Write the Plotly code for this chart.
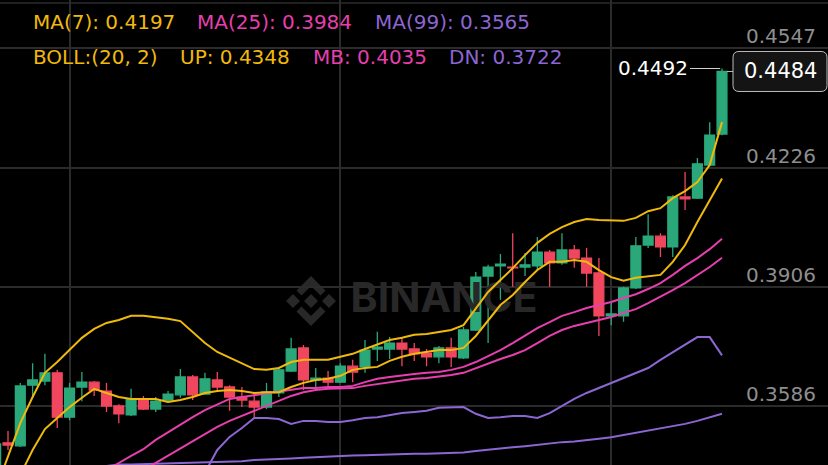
import plotly.graph_objects as go

# ---------------- data ----------------
idx = list(range(60))

opens = [0.3409, 0.3487, 0.3479, 0.3642, 0.3653, 0.3675, 0.3556, 0.3637, 0.3650, 0.3626,
         0.3586, 0.3562, 0.3605, 0.3578, 0.3602, 0.3616, 0.3664, 0.3618, 0.3656, 0.3637,
         0.3610, 0.3599, 0.3583, 0.3621, 0.3680, 0.3742, 0.3656, 0.3661, 0.3650, 0.3693,
         0.3691, 0.3739, 0.3739, 0.3755, 0.3739, 0.3728, 0.3718, 0.3742, 0.3715, 0.3790,
         0.3935, 0.3962, 0.3959, 0.3959, 0.3962, 0.3999, 0.3970, 0.4005, 0.3983, 0.3943,
         0.3828, 0.3828, 0.3903, 0.4018, 0.4042, 0.4013, 0.4147, 0.4144, 0.4233, 0.4316]
highs = [0.3489, 0.3519, 0.3648, 0.3701, 0.3726, 0.3683, 0.3648, 0.3677, 0.3653, 0.3648,
         0.3591, 0.3632, 0.3613, 0.3610, 0.3626, 0.3685, 0.3669, 0.3675, 0.3677, 0.3642,
         0.3637, 0.3621, 0.3648, 0.3691, 0.3769, 0.3750, 0.3688, 0.3680, 0.3701, 0.3710,
         0.3763, 0.3785, 0.3771, 0.3769, 0.3755, 0.3739, 0.3747, 0.3769, 0.3798, 0.3946,
         0.3965, 0.3994, 0.4050, 0.3997, 0.4040, 0.4005, 0.4050, 0.4018, 0.4010, 0.3983,
         0.3863, 0.3906, 0.4040, 0.4101, 0.4050, 0.4152, 0.4214, 0.4252, 0.4348, 0.4492]
lows = [0.3393, 0.3468, 0.3476, 0.3608, 0.3642, 0.3527, 0.3548, 0.3599, 0.3613, 0.3570,
        0.3540, 0.3559, 0.3575, 0.3570, 0.3599, 0.3608, 0.3602, 0.3616, 0.3626, 0.3573,
        0.3583, 0.3556, 0.3578, 0.3610, 0.3677, 0.3629, 0.3632, 0.3634, 0.3648, 0.3650,
        0.3675, 0.3707, 0.3712, 0.3693, 0.3707, 0.3693, 0.3701, 0.3691, 0.3712, 0.3787,
        0.3755, 0.3871, 0.3906, 0.3935, 0.3951, 0.3906, 0.3965, 0.3957, 0.3906, 0.3774,
        0.3803, 0.3812, 0.3900, 0.4010, 0.3986, 0.3986, 0.4112, 0.4142, 0.4230, 0.4313]
closes = [0.3484, 0.3481, 0.3640, 0.3656, 0.3675, 0.3556, 0.3634, 0.3650, 0.3629, 0.3586,
          0.3565, 0.3605, 0.3578, 0.3599, 0.3618, 0.3664, 0.3616, 0.3659, 0.3637, 0.3610,
          0.3602, 0.3583, 0.3624, 0.3683, 0.3739, 0.3656, 0.3661, 0.3650, 0.3693, 0.3677,
          0.3736, 0.3744, 0.3755, 0.3739, 0.3726, 0.3718, 0.3742, 0.3718, 0.3790, 0.3932,
          0.3959, 0.3967, 0.3957, 0.3965, 0.3999, 0.3970, 0.4005, 0.3983, 0.3943, 0.3828,
          0.3833, 0.3903, 0.4016, 0.4042, 0.4013, 0.4147, 0.4142, 0.4236, 0.4313, 0.4484]

ma7 = [0.3280, 0.3342, 0.3401, 0.3468, 0.3524, 0.3554, 0.3583, 0.3608, 0.3632, 0.3621,
       0.3610, 0.3605, 0.3605, 0.3605, 0.3597, 0.3602, 0.3610, 0.3621, 0.3626, 0.3629,
       0.3626, 0.3621, 0.3623, 0.3623, 0.3637, 0.3648, 0.3656, 0.3659, 0.3667, 0.3683,
       0.3688, 0.3691, 0.3707, 0.3718, 0.3726, 0.3731, 0.3736, 0.3736, 0.3742, 0.3774,
       0.3817, 0.3857, 0.3884, 0.3919, 0.3951, 0.3973, 0.3973, 0.3978, 0.3973, 0.3951,
       0.3932, 0.3922, 0.3930, 0.3935, 0.3938, 0.3973, 0.4018, 0.4080, 0.4139, 0.4197]
ma25 = [None] * 12 + [
       0.3414, 0.3433, 0.3452, 0.3473, 0.3492, 0.3511, 0.3530, 0.3546,
       0.3559, 0.3573, 0.3586, 0.3599, 0.3613, 0.3623, 0.3629, 0.3632, 0.3632, 0.3634,
       0.3640, 0.3645, 0.3650, 0.3656, 0.3659, 0.3661, 0.3664, 0.3669, 0.3675, 0.3688,
       0.3701, 0.3712, 0.3723, 0.3736, 0.3755, 0.3774, 0.3790, 0.3801, 0.3809, 0.3817,
       0.3825, 0.3836, 0.3846, 0.3862, 0.3879, 0.3897, 0.3916, 0.3938, 0.3959, 0.3984]
ma99 = [None] * 9 + [
       0.3425,
       0.3429, 0.3429, 0.3430, 0.3430, 0.3431, 0.3431, 0.3432, 0.3433, 0.3434, 0.3436,
       0.3438, 0.3441, 0.3442, 0.3443, 0.3445, 0.3447, 0.3449, 0.3450, 0.3451, 0.3453,
       0.3454, 0.3455, 0.3457, 0.3457, 0.3458, 0.3458, 0.3459, 0.3459, 0.3461, 0.3465,
       0.3469, 0.3473, 0.3475, 0.3478, 0.3482, 0.3486, 0.3489, 0.3491, 0.3494, 0.3498,
       0.3502, 0.3508, 0.3513, 0.3519, 0.3524, 0.3531, 0.3538, 0.3546, 0.3555, 0.3565]
boll_up = [0.3361, 0.3449, 0.3540, 0.3610, 0.3675, 0.3704, 0.3736, 0.3769, 0.3793, 0.3809,
           0.3817, 0.3828, 0.3828, 0.3825, 0.3820, 0.3814, 0.3785, 0.3755, 0.3731, 0.3715,
           0.3701, 0.3685, 0.3683, 0.3688, 0.3704, 0.3710, 0.3710, 0.3710, 0.3718, 0.3726,
           0.3739, 0.3750, 0.3763, 0.3769, 0.3777, 0.3779, 0.3785, 0.3790, 0.3803, 0.3846,
           0.3892, 0.3924, 0.3956, 0.3991, 0.4024, 0.4048, 0.4066, 0.4080, 0.4088, 0.4085,
           0.4083, 0.4083, 0.4091, 0.4109, 0.4117, 0.4144, 0.4163, 0.4187, 0.4233, 0.4348]
boll_mb = [None] * 8 + [
           0.3393, 0.3414,
           0.3433, 0.3452, 0.3470, 0.3495, 0.3516, 0.3535, 0.3556, 0.3575, 0.3591, 0.3605,
           0.3610, 0.3615, 0.3618, 0.3623, 0.3629, 0.3634, 0.3634, 0.3637, 0.3637, 0.3640,
           0.3650, 0.3659, 0.3664, 0.3669, 0.3672, 0.3675, 0.3677, 0.3683, 0.3691, 0.3704,
           0.3720, 0.3736, 0.3755, 0.3774, 0.3795, 0.3811, 0.3828, 0.3838, 0.3849, 0.3857,
           0.3865, 0.3876, 0.3886, 0.3900, 0.3916, 0.3938, 0.3962, 0.3983, 0.4007, 0.4035]
boll_dn = [None] * 16 + [
           0.3347, 0.3409, 0.3468, 0.3503,
           0.3527, 0.3554, 0.3554, 0.3551, 0.3538, 0.3546, 0.3546, 0.3543, 0.3543, 0.3548,
           0.3554, 0.3556, 0.3562, 0.3567, 0.3570, 0.3573, 0.3581, 0.3581, 0.3583, 0.3565,
           0.3554, 0.3556, 0.3559, 0.3559, 0.3554, 0.3567, 0.3586, 0.3605, 0.3621, 0.3634,
           0.3648, 0.3661, 0.3675, 0.3688, 0.3710, 0.3731, 0.3752, 0.3771, 0.3771, 0.3722]

price_ticks = [0.4547, 0.4226, 0.3906, 0.3586]
price_labels = ["0.4547", "0.4226", "0.3906", "0.3586"]
time_grid = [6, 28, 50]

# ---------------- style ----------------
W, H = 828, 465
BG = "#000000"
GREEN = "#2AA87A"
RED = "#F0465E"
YEL = "#F0B90B"
PINK = "#E63FAE"
PURP = "#8C66D2"
GRID = "#2B2B2B"
FONT = "DejaVu Sans"
X0, X1 = 0.35, 67.61
Y0, Y1 = 0.34276, 0.46759

fig = go.Figure()

# watermark text (behind candles)
fig.add_trace(go.Scatter(
    x=[X0 + (X1 - X0) * 444 / W], y=[Y1 - (Y1 - Y0) * 302 / H],
    mode="text", text=["BINANCE"],
    textfont=dict(family="Inter", size=41, color="#282828", weight="bold"),
    hoverinfo="skip", showlegend=False))

fig.add_trace(go.Candlestick(
    x=idx, open=opens, high=highs, low=lows, close=closes,
    increasing=dict(line=dict(color=GREEN, width=1.3), fillcolor=GREEN),
    decreasing=dict(line=dict(color=RED, width=1.3), fillcolor=RED),
    whiskerwidth=0, hoverinfo="skip", showlegend=False))

for vals, col in [(ma99, PURP), (boll_dn, PURP), (ma25, PINK), (boll_mb, PINK),
                  (ma7, YEL), (boll_up, YEL)]:
    fig.add_trace(go.Scatter(x=idx, y=vals, mode="lines",
                             line=dict(color=col, width=2),
                             hoverinfo="skip", showlegend=False))

ann = []
# indicator legends
row1 = [(f"MA(7): {ma7[-1]:.4f}", YEL, 33), (f"MA(25): {ma25[-1]:.4f}", PINK, 197),
        (f"MA(99): {ma99[-1]:.4f}", PURP, 375)]
row2 = [("BOLL:(20, 2)", YEL, 33), (f"UP: {boll_up[-1]:.4f}", YEL, 180),
        (f"MB: {boll_mb[-1]:.4f}", PINK, 313), (f"DN: {boll_dn[-1]:.4f}", PURP, 449)]
for row, cy in [(row1, 22), (row2, 57)]:
    for txt, col, px in row:
        ann.append(dict(text=txt, x=(px - 2) / W, y=1 - cy / H, xref="paper", yref="paper",
                        xanchor="left", yanchor="middle", showarrow=False,
                        font=dict(family=FONT, size=20, color=col)))
# price scale labels
for v, lab in zip(price_ticks, price_labels):
    ann.append(dict(text=lab, x=818 / W, y=v, xref="paper", yref="y",
                    xanchor="right", yanchor="middle", yshift=12, showarrow=False,
                    font=dict(family=FONT, size=20, color="#8E8E8E")))
# highest price marker
hi = max(highs)
hi_i = highs.index(hi)
ann.append(dict(text=f"{hi:.4f}", x=hi_i - 2.6, y=hi, xref="x", yref="y",
                xanchor="right", yanchor="middle", showarrow=False, yshift=1,
                font=dict(family=FONT, size=20, color="#FFFFFF")))
# last price label
ann.append(dict(text=f"{closes[-1]:.4f}", x=780 / W, y=closes[-1], xref="paper", yref="y",
                xanchor="center", yanchor="middle", showarrow=False,
                font=dict(family=FONT, size=21, color="#FFFFFF")))

shapes = []
shapes.append(dict(type="line", xref="x", yref="y", x0=hi_i - 2.6, x1=hi_i - 0.15,
                   y0=hi, y1=hi, line=dict(color="#D0D0D0", width=1)))
shapes.append(dict(type="line", xref="paper", yref="paper", x0=0, x1=1,
                   y0=1 - 3 / H, y1=1 - 3 / H, line=dict(color=GRID, width=1.5),
                   layer="below"))
# rounded box for the last price
r = 6
bx0, bx1, by0, by1 = -95, -1, -20, 20
box = (f"M {bx0 + r},{by0} L {bx1 - r},{by0} Q {bx1},{by0} {bx1},{by0 + r} "
       f"L {bx1},{by1 - r} Q {bx1},{by1} {bx1 - r},{by1} L {bx0 + r},{by1} "
       f"Q {bx0},{by1} {bx0},{by1 - r} L {bx0},{by0 + r} Q {bx0},{by0} {bx0 + r},{by0} Z")
shapes.append(dict(type="path", path=box, xref="paper", xsizemode="pixel", xanchor=1,
                   yref="y", ysizemode="pixel", yanchor=closes[-1],
                   fillcolor="#141414", line=dict(color="#BDBDBD", width=1)))
shapes.append(dict(type="line", xref="x", yref="y", x0=len(idx) - 1 + 0.4,
                   x1=len(idx) - 1 + 0.9, y0=closes[-1], y1=closes[-1],
                   line=dict(color="#BDBDBD", width=1)))
# watermark logo (rotated-square motif)
s = 25
polys = [
    [(0, 0.28), (0.28, 0), (0, -0.28), (-0.28, 0)],
    [(0.72, 0.28), (1.0, 0), (0.72, -0.28), (0.44, 0)],
    [(-0.72, 0.28), (-0.44, 0), (-0.72, -0.28), (-1.0, 0)],
    [(-0.58, 0.42), (0, 1), (0.58, 0.42), (0.38, 0.22), (0, 0.6), (-0.38, 0.22)],
    [(-0.58, -0.42), (0, -1), (0.58, -0.42), (0.38, -0.22), (0, -0.6), (-0.38, -0.22)],
]
logo = ""
for poly in polys:
    logo += "M " + " L ".join(f"{px * s:.1f},{py * s:.1f}" for px, py in poly) + " Z "
shapes.append(dict(type="path", path=logo, xref="paper", xsizemode="pixel",
                   xanchor=311 / W, yref="paper", ysizemode="pixel",
                   yanchor=1 - 301 / H, fillcolor="#282828",
                   line=dict(width=0), layer="below"))

fig.update_layout(
    width=W, height=H, margin=dict(l=0, r=0, t=0, b=0),
    paper_bgcolor=BG, plot_bgcolor=BG, showlegend=False,
    boxgap=0.2, boxgroupgap=0,
    annotations=ann, shapes=shapes, hovermode=False,
    xaxis=dict(range=[X0, X1], tickvals=time_grid, showticklabels=False,
               showgrid=True, gridcolor=GRID, gridwidth=1.5, zeroline=False,
               rangeslider=dict(visible=False), showline=False, fixedrange=True),
    yaxis=dict(range=[Y0, Y1], tickvals=price_ticks, showticklabels=False,
               showgrid=True, gridcolor=GRID, gridwidth=1.5, zeroline=False,
               showline=False, fixedrange=True),
)

fig.write_html(
    "out.html", config={"displayModeBar": False},
    post_script="document.body.style.margin='0';document.body.style.padding='0';"
                "document.body.style.background='#000';"
                "document.documentElement.style.overflow='hidden';")
